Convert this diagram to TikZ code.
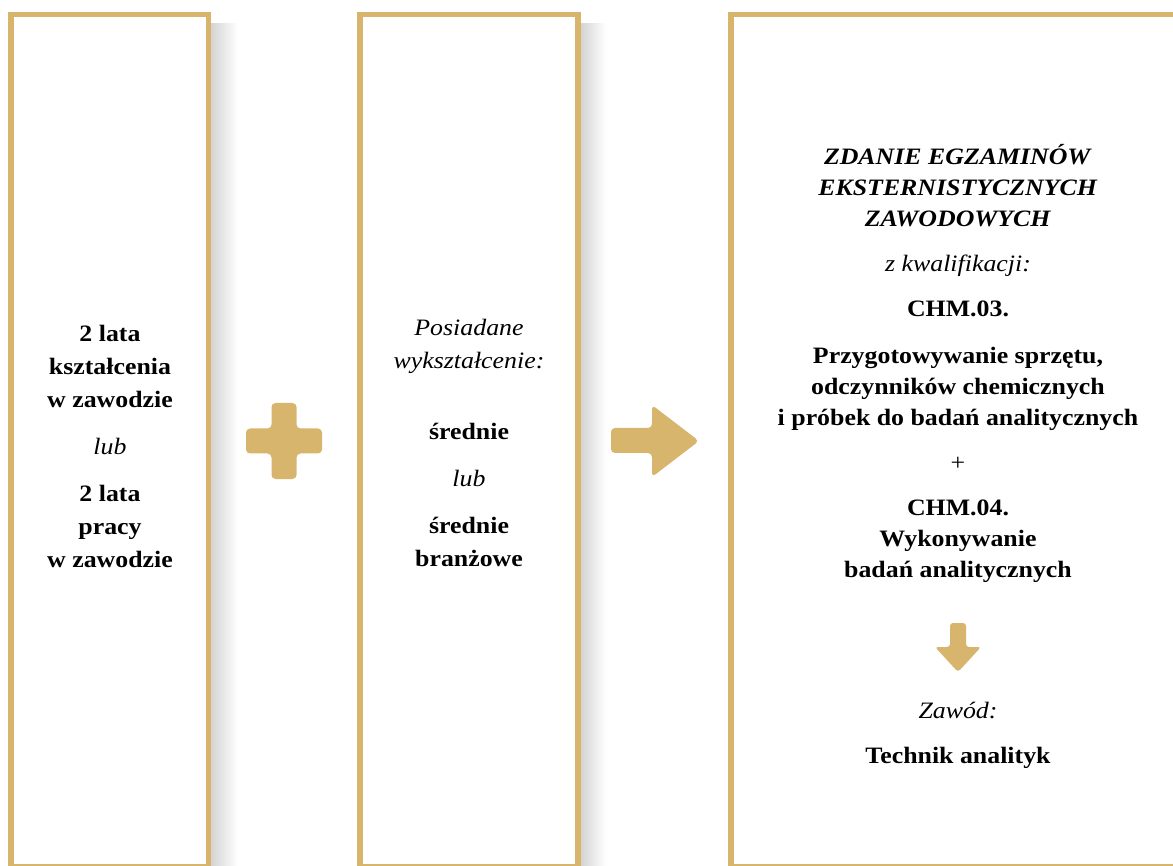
\documentclass[tikz,border=0pt]{standalone}
\usepackage{fontspec}
\setmainfont[FakeStretch=1.1]{Liberation Serif}
\definecolor{gold}{RGB}{216,181,108}
\tikzset{
  box/.style={draw=gold, line width=5.5pt, rectangle, inner sep=0pt},
  txt/.style={align=center, inner sep=0pt, font=\fontsize{23.5}{33}\selectfont},
  shadow/.style={left color=black!18, right color=white, draw=none},
}
\begin{document}
\begin{tikzpicture}[x=1pt,y=-1pt]
        \clip (0,0) rectangle (1173,866);
        \fill[white] (0,0) rectangle (1173,866);
        % shadows
        \fill[shadow] (209,24) rectangle (238,866);
        \fill[shadow] (579,24) rectangle (606,866);
        % boxes
        \node[box, minimum width=197.5pt, minimum height=852pt, fill=white] (left) at (109.5,440.75) {};
        \node[box, minimum width=218pt, minimum height=852pt, fill=white] (mid) at (469,440.75) {};
        \node[box, minimum width=460pt, minimum height=852pt, fill=white] (right) at (961,440.75) {};
        % texts
        \node[txt] (work) at (110,446) {\textbf{2 lata}\\\textbf{kształcenia}\\\textbf{w zawodzie}\\[14pt]\textit{lub}\\[14pt]\textbf{2 lata}\\\textbf{pracy}\\\textbf{w zawodzie}};
        \node[txt] (edu) at (469,443) {\textit{Posiadane}\\\textit{wykształcenie:}\\[38pt]\textbf{średnie}\\[14pt]\textit{lub}\\[14pt]\textbf{średnie}\\\textbf{branżowe}};
        \node[txt] (exam) at (958,363) {\textbf{\textit{ZDANIE EGZAMINÓW}}\\[-2pt]\textbf{\textit{EKSTERNISTYCZNYCH}}\\[-2pt]\textbf{\textit{ZAWODOWYCH}}\\[12pt]\textit{z kwalifikacji:}\\[12pt]\textbf{CHM.03.}\\[14pt]\textbf{Przygotowywanie sprzętu,}\\[-2pt]\textbf{odczynników chemicznych}\\[-2pt]\textbf{i próbek do badań analitycznych}\\[12pt]+\\[12pt]\textbf{CHM.04.}\\[-2pt]\textbf{Wykonywanie}\\[-2pt]\textbf{badań analitycznych}};
        \node[txt] (job) at (958,735) {\textit{Zawód:}\\[12pt]\textbf{Technik analityk}};
        % plus
        \fill[gold, rounded corners=4pt] (271.5,403) -- (296.5,403) -- (296.5,428.5) -- (322,428.5) -- (322,453.5) -- (296.5,453.5) -- (296.5,479) -- (271.5,479) -- (271.5,453.5) -- (246,453.5) -- (246,428.5) -- (271.5,428.5) -- cycle;
        % arrows
        \fill[gold, rounded corners=4pt] (611,428) -- (652,428) -- (652,405) -- (699,441) -- (652,477) -- (652,453) -- (611,453) -- cycle;
        \fill[gold, rounded corners=3pt] (950,623) -- (966,623) -- (966,647) -- (981,647) -- (958,672) -- (935,647) -- (950,647) -- cycle;
    \end{tikzpicture}
\end{document}
